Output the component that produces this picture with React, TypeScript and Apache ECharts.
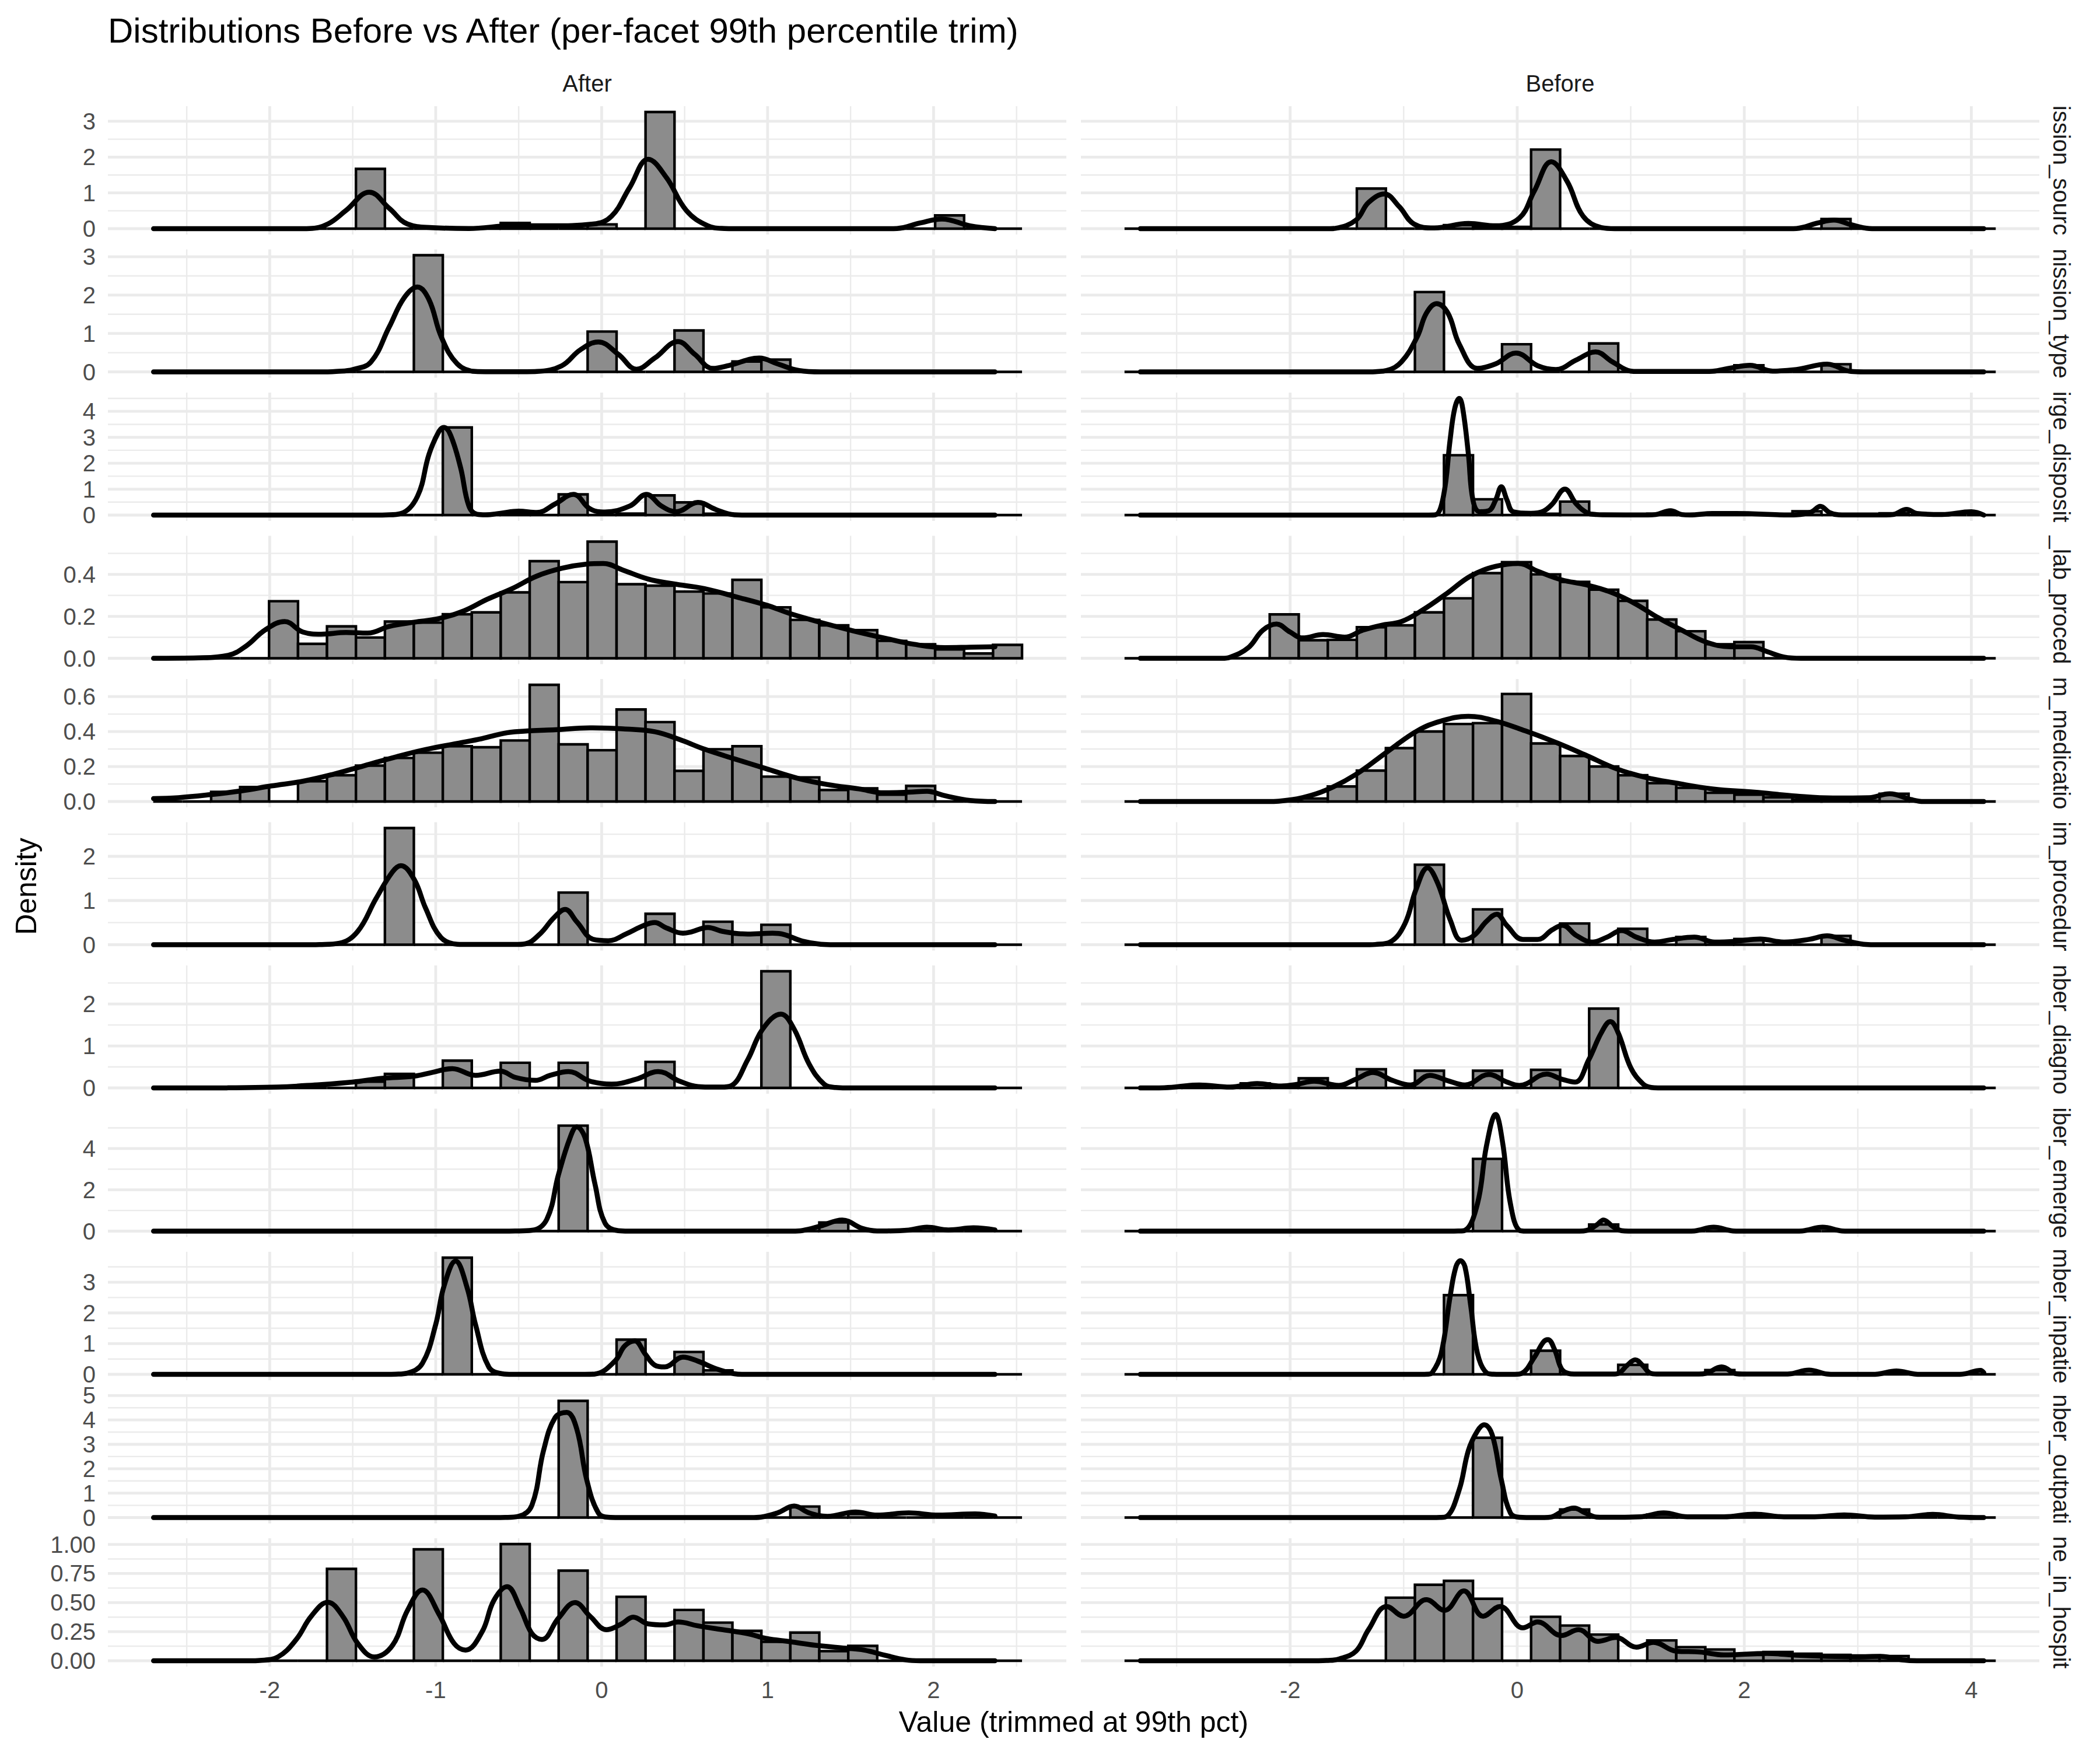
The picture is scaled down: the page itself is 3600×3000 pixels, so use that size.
import React, { useEffect, useRef } from "react";
import * as echarts from "echarts";

// ---------------- text ----------------
const chartTitle = "Distributions Before vs After (per-facet 99th percentile trim)";
const xTitle = "Value (trimmed at 99th pct)";
const yTitle = "Density";
const columnLabels = ["After", "Before"];
const rowStripLabels = [
  "ission_sourc", "nission_type", "irge_disposit", "_lab_proced", "m_medicatio",
  "im_procedur", "nber_diagno", "iber_emerge", "mber_inpatie", "nber_outpati", "ne_in_hospit",
];

// ---------------- x scales / bins ----------------
const afterXRange = [-2.975, 2.8];
const beforeXRange = [-3.843, 4.599];
const afterXTicks = [-2, -1, 0, 1, 2];
const afterXMinor = [-2.5, -1.5, -0.5, 0.5, 1.5, 2.5];
const beforeXTicks = [-2, 0, 2, 4];
const beforeXMinor = [-3, -1, 1, 3];
const afterBinStart = -2.702;
const afterBinWidth = 0.1745;
const beforeBinStart = -3.459;
const beforeBinWidth = 0.2558;

// ---------------- y ticks ----------------
const yTicksInt3 = [0, 1, 2, 3];
const yLabelsInt3 = ["0", "1", "2", "3"];
const yMinorInt3 = [0.5, 1.5, 2.5];
const yTicksInt4 = [0, 1, 2, 3, 4];
const yLabelsInt4 = ["0", "1", "2", "3", "4"];
const yMinorInt4 = [0.5, 1.5, 2.5, 3.5, 4.5];
const yTicksLab = [0, 0.2, 0.4];
const yLabelsLab = ["0.0", "0.2", "0.4"];
const yMinorLab = [0.1, 0.3, 0.5];
const yTicksMed = [0, 0.2, 0.4, 0.6];
const yLabelsMed = ["0.0", "0.2", "0.4", "0.6"];
const yMinorMed = [0.1, 0.3, 0.5];
const yTicksInt2 = [0, 1, 2];
const yLabelsInt2 = ["0", "1", "2"];
const yMinorInt2 = [0.5, 1.5, 2.5];
const yTicksEven = [0, 2, 4];
const yLabelsEven = ["0", "2", "4"];
const yMinorEven = [1, 3, 5];
const yMinorInp = [0.5, 1.5, 2.5, 3.5];
const yTicksInt5 = [0, 1, 2, 3, 4, 5];
const yLabelsInt5 = ["0", "1", "2", "3", "4", "5"];
const yMinorInt5 = [0.5, 1.5, 2.5, 3.5, 4.5];
const yTicksQuart = [0, 0.25, 0.5, 0.75, 1];
const yLabelsQuart = ["0.00", "0.25", "0.50", "0.75", "1.00"];
const yMinorQuart = [0.125, 0.375, 0.625, 0.875];

// ---------------- histogram heights (30 bins per panel) ----------------
const barsAfterAdmSource = [0,0,0,0,0,0,0,1.67,0,0,0,0,0.16,0,0,0.12,0,3.26,0,0,0,0,0,0,0,0,0,0.37,0,0];
const barsBeforeAdmSource = [0,0,0,0,0,0,0,0,1.12,0,0,0.1,0.05,0.05,2.21,0,0,0,0,0,0,0,0,0,0.27,0,0,0,0,0];
const barsAfterAdmType = [0,0,0,0,0,0,0,0,0,3.04,0,0,0,0,0,1.05,0,0,1.08,0,0.27,0.32,0,0,0,0,0,0,0,0];
const barsBeforeAdmType = [0,0,0,0,0,0,0,0,0,0,2.08,0,0,0.72,0,0,0.74,0,0,0,0,0.17,0,0,0.2,0,0,0,0,0];
const barsAfterDisch = [0,0,0,0,0,0,0,0,0,0,3.38,0,0.07,0,0.8,0,0.06,0.76,0.49,0.05,0,0,0,0,0,0,0,0,0,0];
const barsBeforeDisch = [0,0,0,0,0,0,0,0,0,0,0,2.31,0.61,0,0.05,0.52,0,0,0.05,0,0,0,0,0.15,0,0,0.07,0,0,0];
const barsAfterLab = [0,0,0,0,0.272,0.069,0.152,0.099,0.175,0.17,0.21,0.219,0.314,0.463,0.363,0.556,0.353,0.346,0.318,0.309,0.374,0.243,0.183,0.157,0.134,0.083,0.067,0.042,0.023,0.064];
const barsBeforeLab = [0,0,0,0,0,0.209,0.086,0.088,0.148,0.157,0.219,0.286,0.406,0.458,0.4,0.364,0.327,0.274,0.185,0.129,0.067,0.077,0,0,0,0,0,0,0,0];
const barsAfterMed = [0,0,0.055,0.083,0,0.116,0.15,0.205,0.249,0.279,0.316,0.31,0.349,0.667,0.327,0.293,0.526,0.454,0.175,0.299,0.316,0.142,0.138,0.066,0.075,0.039,0.089,0,0,0];
const barsBeforeMed = [0,0,0,0,0,0,0.017,0.086,0.177,0.305,0.4,0.443,0.448,0.615,0.332,0.26,0.2,0.15,0.105,0.078,0.05,0.039,0.024,0.011,0.011,0.005,0.044,0,0,0];
const barsAfterProc = [0,0,0,0,0,0,0,0,2.64,0,0,0,0,0,1.18,0,0,0.7,0,0.52,0.23,0.45,0,0,0,0,0,0,0,0];
const barsBeforeProc = [0,0,0,0,0,0,0,0,0,0,1.81,0,0.8,0,0,0.48,0,0.36,0,0.175,0,0.13,0,0,0.2,0,0,0,0,0];
const barsAfterDiag = [0,0,0,0,0,0,0,0.15,0.335,0,0.65,0,0.6,0,0.6,0,0,0.62,0,0,0,2.78,0,0,0,0,0,0,0,0];
const barsBeforeDiag = [0,0,0.04,0,0.11,0,0.23,0,0.445,0,0.41,0,0.41,0,0.43,0,1.89,0,0,0,0,0,0,0,0,0,0,0,0,0];
const barsAfterEmerg = [0,0,0,0,0,0,0,0,0,0,0,0,0,0,5.11,0,0,0,0,0,0,0,0,0.42,0,0,0,0,0,0];
const barsBeforeEmerg = [0,0,0,0,0,0,0,0,0,0,0,0,3.5,0,0,0,0.32,0,0,0,0,0,0,0,0,0,0,0,0,0];
const barsAfterInp = [0,0,0,0,0,0,0,0,0,0,3.8,0,0,0,0,0,1.13,0,0.73,0.13,0,0,0,0,0,0,0,0,0,0];
const barsBeforeInp = [0,0,0,0,0,0,0,0,0,0,0,2.58,0,0,0.77,0,0,0.31,0,0,0.14,0,0,0,0,0,0,0,0,0];
const barsAfterOutp = [0,0,0,0,0,0,0,0,0,0,0,0,0,0,4.78,0,0,0,0,0,0,0,0.45,0,0.15,0,0,0,0,0];
const barsBeforeOutp = [0,0,0,0,0,0,0,0,0,0,0,0,3.27,0,0,0.33,0,0,0.12,0,0,0,0,0,0,0,0,0,0,0];
const barsAfterTime = [0,0,0,0,0,0,0.79,0,0,0.958,0,0,1.003,0,0.775,0,0.55,0,0.437,0.328,0.257,0.163,0.242,0.083,0.128,0,0,0,0,0];
const barsBeforeTime = [0,0,0,0,0,0,0,0,0,0.542,0.653,0.687,0.533,0,0.378,0.303,0.225,0,0.175,0.117,0.097,0.05,0.075,0.06,0.05,0.045,0.04,0,0,0];

// ---------------- density curves [x, density] ----------------
const densAfterAdmSource = [[-2.7,0],[-1.8,0],[-1.76,0.003],[-1.65,0.13],[-1.54,0.51],[-1.4,1.02],[-1.28,0.57],[-1.17,0.13],[-1.02,0.03],[-0.8,0.005],[-0.54,0.08],[-0.31,0.08],[-0.05,0.13],[0.06,0.35],[0.17,1.16],[0.28,1.94],[0.39,1.43],[0.51,0.51],[0.64,0.08],[0.74,0.005],[0.8,0],[1.72,0],[1.78,0.005],[1.92,0.16],[2.05,0.27],[2.22,0.08],[2.37,0]];
const densBeforeAdmSource = [[-3.32,0],[-1.65,0],[-1.6,0.01],[-1.42,0.24],[-1.31,0.73],[-1.17,0.97],[-1.04,0.62],[-0.91,0.13],[-0.73,0.02],[-0.43,0.145],[-0.19,0.08],[0.02,0.3],[0.15,1.05],[0.3,1.87],[0.44,1.32],[0.58,0.35],[0.74,0.03],[0.86,0],[0.92,0],[2.4,0],[2.46,0.005],[2.65,0.16],[2.79,0.24],[2.94,0.11],[3.1,0.005],[3.16,0],[4.11,0]];
const densAfterAdmType = [[-2.7,0],[-1.65,0],[-1.6,0.01],[-1.5,0.06],[-1.39,0.26],[-1.28,1.17],[-1.19,1.93],[-1.11,2.21],[-1.04,1.88],[-0.967,0.92],[-0.87,0.21],[-0.76,0.01],[-0.7,0.005],[-0.45,0.005],[-0.39,0.01],[-0.24,0.16],[-0.13,0.57],[-0.02,0.78],[0.1,0.46],[0.21,0.07],[0.32,0.36],[0.46,0.79],[0.56,0.46],[0.67,0.09],[0.77,0.17],[0.95,0.36],[1.06,0.21],[1.19,0.035],[1.32,0],[1.38,0],[2.37,0]];
const densBeforeAdmType = [[-3.32,0],[-1.3,0],[-1.25,0.005],[-1.15,0.035],[-1.02,0.26],[-0.88,0.92],[-0.8,1.53],[-0.71,1.78],[-0.61,1.53],[-0.51,0.72],[-0.35,0.09],[-0.19,0.21],[-0.01,0.49],[0.18,0.16],[0.34,0.06],[0.52,0.31],[0.69,0.52],[0.84,0.26],[1.0,0.02],[1.06,0.01],[1.66,0.01],[1.72,0.015],[1.88,0.1],[2.05,0.17],[2.25,0.02],[2.46,0.06],[2.73,0.2],[2.94,0.01],[3.05,0],[3.1,0],[4.11,0]];
const densAfterDisch = [[-2.7,0],[-1.35,0],[-1.3,0.005],[-1.21,0.06],[-1.11,0.72],[-1.04,2.35],[-0.98,3.23],[-0.95,3.38],[-0.91,3.08],[-0.85,1.83],[-0.8,0.35],[-0.75,0.03],[-0.7,0.01],[-0.61,0.07],[-0.5,0.15],[-0.39,0.1],[-0.28,0.43],[-0.17,0.8],[-0.07,0.24],[0.02,0.12],[0.17,0.35],[0.27,0.8],[0.36,0.35],[0.45,0.13],[0.58,0.49],[0.69,0.21],[0.8,0.01],[0.86,0],[0.92,0],[2.37,0]];
const densBeforeDisch = [[-3.32,0],[-0.78,0],[-0.72,0.01],[-0.65,0.72],[-0.59,2.94],[-0.55,4.12],[-0.51,4.5],[-0.48,4.12],[-0.43,2.35],[-0.39,0.58],[-0.33,0.13],[-0.25,0.17],[-0.19,0.58],[-0.14,1.09],[-0.09,0.58],[-0.035,0.13],[0.12,0.07],[0.23,0.15],[0.31,0.43],[0.42,1.0],[0.52,0.43],[0.62,0.08],[0.7,0.02],[0.76,0.01],[1.15,0.005],[1.22,0.02],[1.35,0.17],[1.45,0.02],[1.52,0.005],[1.72,0.06],[1.93,0.06],[2.4,0.005],[2.46,0.01],[2.59,0.12],[2.67,0.34],[2.75,0.1],[2.83,0.01],[2.9,0.005],[3.25,0.005],[3.31,0.02],[3.43,0.22],[3.52,0.06],[3.74,0.02],[4.0,0.13],[4.11,0]];
const densAfterLab = [[-2.7,0],[-2.43,0.002],[-2.25,0.014],[-2.14,0.06],[-2.03,0.134],[-1.91,0.175],[-1.8,0.125],[-1.69,0.115],[-1.54,0.123],[-1.41,0.12],[-1.28,0.152],[-1.13,0.172],[-0.98,0.189],[-0.83,0.226],[-0.69,0.281],[-0.54,0.332],[-0.39,0.392],[-0.24,0.429],[-0.09,0.449],[0.01,0.452],[0.13,0.42],[0.28,0.378],[0.43,0.355],[0.62,0.332],[0.8,0.295],[0.99,0.254],[1.14,0.212],[1.32,0.171],[1.51,0.132],[1.7,0.097],[1.88,0.067],[2.07,0.051],[2.22,0.053],[2.37,0.055]];
const densBeforeLab = [[-3.32,0],[-2.6,0],[-2.53,0.005],[-2.37,0.05],[-2.24,0.134],[-2.12,0.163],[-2.0,0.125],[-1.89,0.097],[-1.71,0.113],[-1.52,0.101],[-1.36,0.134],[-1.2,0.157],[-1.02,0.175],[-0.83,0.231],[-0.62,0.309],[-0.41,0.392],[-0.19,0.438],[0.01,0.452],[0.18,0.415],[0.39,0.374],[0.6,0.351],[0.81,0.318],[1.03,0.263],[1.24,0.194],[1.45,0.134],[1.66,0.078],[1.88,0.055],[2.06,0.055],[2.2,0.032],[2.35,0.006],[2.5,0],[2.57,0],[4.11,0]];
const densAfterMed = [[-2.7,0.017],[-2.55,0.022],[-2.36,0.039],[-2.17,0.061],[-1.99,0.089],[-1.8,0.116],[-1.62,0.155],[-1.43,0.205],[-1.24,0.255],[-1.06,0.297],[-0.87,0.332],[-0.72,0.36],[-0.57,0.393],[-0.43,0.404],[-0.28,0.41],[-0.07,0.421],[0.13,0.415],[0.32,0.399],[0.47,0.354],[0.62,0.299],[0.8,0.244],[0.99,0.188],[1.18,0.133],[1.36,0.097],[1.55,0.072],[1.7,0.05],[1.85,0.053],[1.96,0.058],[2.07,0.033],[2.22,0.006],[2.37,0]];
const densBeforeMed = [[-3.32,0],[-2.2,0],[-2.1,0.002],[-1.89,0.022],[-1.68,0.066],[-1.42,0.155],[-1.15,0.282],[-0.88,0.404],[-0.67,0.46],[-0.43,0.487],[-0.19,0.46],[0.07,0.404],[0.34,0.338],[0.6,0.266],[0.87,0.188],[1.13,0.138],[1.4,0.105],[1.72,0.072],[2.09,0.053],[2.46,0.031],[2.78,0.02],[3.1,0.022],[3.28,0.044],[3.47,0.011],[3.58,0],[3.63,0],[4.11,0]];
const densAfterProc = [[-2.7,0],[-1.75,0],[-1.7,0.003],[-1.58,0.035],[-1.47,0.3],[-1.36,1.04],[-1.26,1.65],[-1.21,1.79],[-1.13,1.48],[-1.06,0.82],[-0.97,0.17],[-0.87,0.01],[-0.8,0.005],[-0.52,0.005],[-0.46,0.02],[-0.37,0.25],[-0.29,0.6],[-0.22,0.8],[-0.15,0.52],[-0.05,0.12],[0.04,0.09],[0.15,0.25],[0.25,0.43],[0.32,0.5],[0.39,0.38],[0.49,0.26],[0.54,0.29],[0.64,0.39],[0.73,0.3],[0.88,0.24],[1.03,0.26],[1.1,0.23],[1.21,0.08],[1.32,0.01],[1.4,0],[1.45,0],[2.37,0]];
const densBeforeProc = [[-3.32,0],[-1.3,0],[-1.25,0.005],[-1.12,0.06],[-0.99,0.47],[-0.89,1.26],[-0.79,1.74],[-0.7,1.39],[-0.59,0.56],[-0.49,0.1],[-0.38,0.21],[-0.27,0.53],[-0.18,0.69],[-0.09,0.43],[0.05,0.12],[0.18,0.12],[0.31,0.34],[0.4,0.44],[0.52,0.21],[0.66,0.06],[0.79,0.17],[0.92,0.32],[1.05,0.17],[1.21,0.06],[1.37,0.12],[1.56,0.17],[1.74,0.06],[1.93,0.08],[2.14,0.13],[2.35,0.06],[2.57,0.12],[2.73,0.2],[2.88,0.1],[3.05,0.01],[3.14,0],[3.2,0],[4.11,0]];
const densAfterDiag = [[-2.7,0],[-2.3,0],[-2.25,0.002],[-1.95,0.02],[-1.73,0.07],[-1.5,0.14],[-1.32,0.23],[-1.13,0.28],[-1.02,0.37],[-0.9,0.46],[-0.76,0.3],[-0.61,0.4],[-0.52,0.25],[-0.4,0.18],[-0.31,0.3],[-0.2,0.39],[-0.07,0.16],[0.06,0.09],[0.21,0.21],[0.34,0.39],[0.47,0.16],[0.58,0.03],[0.64,0.02],[0.72,0.02],[0.78,0.05],[0.88,0.67],[0.97,1.4],[1.08,1.76],[1.16,1.4],[1.25,0.57],[1.34,0.09],[1.41,0.01],[1.47,0],[2.37,0]];
const densBeforeDiag = [[-3.32,0],[-3.11,0.005],[-2.8,0.07],[-2.53,0.02],[-2.29,0.105],[-2.08,0.046],[-1.95,0.08],[-1.79,0.16],[-1.57,0.06],[-1.42,0.21],[-1.27,0.37],[-1.1,0.18],[-0.94,0.07],[-0.77,0.3],[-0.62,0.18],[-0.46,0.07],[-0.25,0.32],[-0.09,0.14],[0.02,0.06],[0.26,0.33],[0.39,0.21],[0.51,0.14],[0.63,0.67],[0.74,1.31],[0.82,1.58],[0.89,1.31],[1.0,0.48],[1.11,0.09],[1.18,0.01],[1.24,0],[4.11,0]];
const densAfterEmerg = [[-2.7,0],[-0.6,0],[-0.52,0.005],[-0.42,0.04],[-0.33,0.58],[-0.26,2.74],[-0.19,4.53],[-0.15,5.05],[-0.1,4.53],[-0.04,2.27],[0.02,0.39],[0.1,0.02],[0.16,0],[0.22,0],[1.15,0],[1.21,0.03],[1.32,0.25],[1.45,0.54],[1.57,0.13],[1.66,0.01],[1.72,0.01],[1.85,0.05],[1.96,0.19],[2.09,0.06],[2.24,0.16],[2.37,0.06]];
const densBeforeEmerg = [[-3.32,0],[-0.6,0],[-0.52,0.005],[-0.46,0.04],[-0.35,1.33],[-0.27,4.15],[-0.19,5.65],[-0.13,4.34],[-0.06,1.33],[0.02,0.04],[0.08,0],[0.14,0],[0.55,0],[0.61,0.03],[0.7,0.3],[0.76,0.54],[0.84,0.23],[0.92,0.02],[0.98,0],[1.5,0],[1.56,0.01],[1.73,0.19],[1.9,0.01],[1.96,0],[2.45,0],[2.51,0.01],[2.69,0.19],[2.86,0.01],[2.92,0],[4.11,0]];
const densAfterInp = [[-2.7,0],[-1.3,0],[-1.24,0.005],[-1.17,0.04],[-1.08,0.36],[-1.0,1.62],[-0.95,2.87],[-0.88,3.69],[-0.81,2.81],[-0.76,1.62],[-0.68,0.24],[-0.6,0.02],[-0.54,0],[-0.1,0],[-0.04,0.01],[0.08,0.43],[0.14,0.93],[0.2,1.09],[0.26,0.68],[0.32,0.3],[0.38,0.24],[0.49,0.56],[0.58,0.43],[0.69,0.18],[0.8,0.02],[0.86,0],[0.92,0],[2.37,0]];
const densBeforeInp = [[-3.32,0],[-0.85,0],[-0.79,0.005],[-0.75,0.05],[-0.67,0.68],[-0.59,2.56],[-0.54,3.5],[-0.5,3.7],[-0.46,3.5],[-0.41,2.25],[-0.35,0.68],[-0.27,0.05],[-0.21,0.005],[-0.15,0],[-0.02,0],[0.04,0.03],[0.15,0.55],[0.23,1.05],[0.27,1.13],[0.33,0.8],[0.39,0.18],[0.45,0.03],[0.5,0.01],[0.84,0.01],[0.89,0.03],[0.97,0.3],[1.04,0.47],[1.11,0.27],[1.17,0.04],[1.23,0.01],[1.6,0.01],[1.66,0.03],[1.8,0.24],[1.93,0.02],[1.99,0.01],[2.35,0.01],[2.41,0.02],[2.57,0.14],[2.73,0.01],[2.8,0],[3.12,0],[3.18,0.01],[3.34,0.11],[3.5,0.01],[3.56,0],[3.9,0],[3.95,0.02],[4.08,0.13],[4.11,0.05]];
const densAfterOutp = [[-2.7,0],[-0.65,0],[-0.58,0.005],[-0.5,0.05],[-0.42,0.51],[-0.35,2.75],[-0.28,4.1],[-0.21,4.31],[-0.15,3.63],[-0.09,1.55],[-0.02,0.19],[0.04,0.01],[0.1,0],[0.9,0],[0.96,0.02],[1.06,0.19],[1.16,0.47],[1.25,0.19],[1.36,0.05],[1.53,0.23],[1.66,0.1],[1.85,0.19],[2.03,0.1],[2.25,0.15],[2.37,0.06]];
const densBeforeOutp = [[-3.32,0],[-0.75,0],[-0.68,0.005],[-0.62,0.05],[-0.51,1.15],[-0.43,2.75],[-0.35,3.55],[-0.29,3.8],[-0.22,3.39],[-0.14,1.55],[-0.06,0.19],[0.02,0.01],[0.08,0],[0.24,0],[0.3,0.02],[0.39,0.23],[0.5,0.39],[0.6,0.19],[0.7,0.02],[0.76,0.01],[1.08,0.03],[1.29,0.19],[1.5,0.03],[1.82,0.03],[2.09,0.14],[2.35,0.03],[2.62,0.03],[2.88,0.11],[3.15,0.02],[3.42,0.03],[3.66,0.13],[3.89,0.02],[4.11,0]];
const densAfterTime = [[-2.7,0],[-2.12,0],[-2.06,0.003],[-1.95,0.033],[-1.84,0.183],[-1.75,0.383],[-1.65,0.503],[-1.56,0.383],[-1.47,0.15],[-1.37,0.033],[-1.26,0.133],[-1.17,0.433],[-1.08,0.608],[-0.98,0.4],[-0.89,0.15],[-0.82,0.092],[-0.72,0.25],[-0.65,0.517],[-0.57,0.637],[-0.49,0.45],[-0.42,0.233],[-0.36,0.183],[-0.26,0.367],[-0.16,0.5],[-0.07,0.383],[0.03,0.267],[0.12,0.317],[0.19,0.375],[0.28,0.317],[0.38,0.308],[0.46,0.333],[0.58,0.3],[0.73,0.267],[0.88,0.233],[0.99,0.192],[1.14,0.163],[1.29,0.133],[1.47,0.108],[1.58,0.092],[1.7,0.05],[1.83,0.008],[1.92,0],[1.98,0],[2.37,0]];
const densBeforeTime = [[-3.32,0],[-1.75,0],[-1.68,0.002],[-1.57,0.015],[-1.42,0.083],[-1.31,0.267],[-1.15,0.467],[-1.0,0.383],[-0.8,0.525],[-0.64,0.433],[-0.47,0.6],[-0.3,0.383],[-0.15,0.467],[0.05,0.283],[0.18,0.333],[0.39,0.217],[0.54,0.267],[0.71,0.167],[0.87,0.2],[1.05,0.117],[1.2,0.158],[1.4,0.083],[1.61,0.075],[1.82,0.05],[2.2,0.063],[2.46,0.047],[2.73,0.037],[2.99,0.033],[3.2,0.037],[3.39,0.008],[3.52,0],[3.58,0],[4.11,0]];

// ---------------- tables built from the arrays ----------------
const columns = [
  { range: afterXRange, ticks: afterXTicks, minor: afterXMinor, binStart: afterBinStart, binWidth: afterBinWidth },
  { range: beforeXRange, ticks: beforeXTicks, minor: beforeXMinor, binStart: beforeBinStart, binWidth: beforeBinWidth },
];
const rows = [
  { bars: [barsAfterAdmSource, barsBeforeAdmSource], dens: [densAfterAdmSource, densBeforeAdmSource], ticks: yTicksInt3, labels: yLabelsInt3, minor: yMinorInt3 },
  { bars: [barsAfterAdmType, barsBeforeAdmType], dens: [densAfterAdmType, densBeforeAdmType], ticks: yTicksInt3, labels: yLabelsInt3, minor: yMinorInt3 },
  { bars: [barsAfterDisch, barsBeforeDisch], dens: [densAfterDisch, densBeforeDisch], ticks: yTicksInt4, labels: yLabelsInt4, minor: yMinorInt4 },
  { bars: [barsAfterLab, barsBeforeLab], dens: [densAfterLab, densBeforeLab], ticks: yTicksLab, labels: yLabelsLab, minor: yMinorLab },
  { bars: [barsAfterMed, barsBeforeMed], dens: [densAfterMed, densBeforeMed], ticks: yTicksMed, labels: yLabelsMed, minor: yMinorMed },
  { bars: [barsAfterProc, barsBeforeProc], dens: [densAfterProc, densBeforeProc], ticks: yTicksInt2, labels: yLabelsInt2, minor: yMinorInt2 },
  { bars: [barsAfterDiag, barsBeforeDiag], dens: [densAfterDiag, densBeforeDiag], ticks: yTicksInt2, labels: yLabelsInt2, minor: yMinorInt2 },
  { bars: [barsAfterEmerg, barsBeforeEmerg], dens: [densAfterEmerg, densBeforeEmerg], ticks: yTicksEven, labels: yLabelsEven, minor: yMinorEven },
  { bars: [barsAfterInp, barsBeforeInp], dens: [densAfterInp, densBeforeInp], ticks: yTicksInt3, labels: yLabelsInt3, minor: yMinorInp },
  { bars: [barsAfterOutp, barsBeforeOutp], dens: [densAfterOutp, densBeforeOutp], ticks: yTicksInt5, labels: yLabelsInt5, minor: yMinorInt5 },
  { bars: [barsAfterTime, barsBeforeTime], dens: [densAfterTime, densBeforeTime], ticks: yTicksQuart, labels: yLabelsQuart, minor: yMinorQuart },
];

// ---------------- layout ----------------
const FONT = "'Liberation Sans', Arial, Helvetica, sans-serif";
const PANEL_LEFT = [185, 1853];
const PANEL_W = 1643;
const PANEL_TOP0 = 182;
const ROW_PITCH = 245.5;
const PANEL_H = 220;
const GRID_COLOR = "#EBEBEB";

function buildOption() {
  const grid: any[] = [];
  const xAxis: any[] = [];
  const yAxis: any[] = [];
  const series: any[] = [];
  const graphic: any[] = [];
  const nRows = rows.length;

  rows.forEach((row, r) => {
    const allY: number[] = [];
    row.bars.forEach((b) => b.forEach((v) => allY.push(v)));
    row.dens.forEach((d) => d.forEach((p) => allY.push(p[1])));
    const M = Math.max(...allY);
    const yMin = -0.05 * M;
    const yMax = 1.05 * M;

    [0, 1].forEach((c) => {
      const i = r * 2 + c;
      const col = columns[c];
      grid.push({ left: PANEL_LEFT[c], top: PANEL_TOP0 + r * ROW_PITCH, width: PANEL_W, height: PANEL_H });
      xAxis.push({
        gridIndex: i,
        type: "value",
        min: col.range[0],
        max: col.range[1],
        axisLine: { show: false },
        axisTick: { show: false },
        splitLine: { show: false },
        axisLabel: {
          show: r === nRows - 1,
          customValues: col.ticks,
          formatter: (v: number) => String(Math.round(v)),
          margin: 20,
          fontSize: 40,
          color: "#4D4D4D",
          fontFamily: FONT,
        },
      });
      yAxis.push({
        gridIndex: i,
        type: "value",
        min: yMin,
        max: yMax,
        axisLine: { show: false },
        axisTick: { show: false },
        splitLine: { show: false },
        axisLabel: {
          show: c === 0,
          customValues: row.ticks,
          formatter: (v: number) => {
            const k = row.ticks.findIndex((t) => Math.abs(t - v) < 1e-9);
            return k >= 0 ? row.labels[k] : "";
          },
          margin: 21,
          fontSize: 40,
          lineHeight: 30,
          color: "#4D4D4D",
          fontFamily: FONT,
        },
      });

      // grid lines: [value, orientation(0 = vertical, 1 = horizontal), major]
      const gl: number[][] = [];
      col.minor.forEach((v) => gl.push([v, 0, 0]));
      row.minor.forEach((v) => gl.push([v, 1, 0]));
      col.ticks.forEach((v) => gl.push([v, 0, 1]));
      row.ticks.forEach((v) => gl.push([v, 1, 1]));
      series.push({
        type: "custom",
        xAxisIndex: i,
        yAxisIndex: i,
        z: 1,
        silent: true,
        data: gl,
        renderItem: (params: any, api: any) => {
          const cs = params.coordSys;
          const v = api.value(0);
          const o = api.value(1);
          const m = api.value(2);
          const lw = m ? 4.8 : 2.4;
          if (o === 0) {
            const px = api.coord([v, 0])[0];
            return { type: "line", shape: { x1: px, y1: cs.y, x2: px, y2: cs.y + cs.height }, style: { stroke: GRID_COLOR, lineWidth: lw } };
          }
          const py = api.coord([0, v])[1];
          return { type: "line", shape: { x1: cs.x, y1: py, x2: cs.x + cs.width, y2: py }, style: { stroke: GRID_COLOR, lineWidth: lw } };
        },
      });

      // histogram
      const bars = row.bars[c];
      const bd = bars.map((h, k) => [col.binStart + k * col.binWidth, col.binStart + (k + 1) * col.binWidth, h]);
      series.push({
        type: "custom",
        xAxisIndex: i,
        yAxisIndex: i,
        z: 2,
        silent: true,
        data: bd,
        encode: { x: [0, 1], y: 2 },
        renderItem: (params: any, api: any) => {
          const p0 = api.coord([api.value(0), api.value(2)]);
          const p1 = api.coord([api.value(1), 0]);
          return {
            type: "rect",
            shape: { x: p0[0], y: p0[1], width: p1[0] - p0[0], height: p1[1] - p0[1] },
            style: { fill: "#8C8C8C", stroke: "#000000", lineWidth: 4.4 },
          };
        },
      });

      // density
      series.push({
        type: "line",
        xAxisIndex: i,
        yAxisIndex: i,
        z: 3,
        silent: true,
        data: row.dens[c],
        symbol: "none",
        showSymbol: false,
        smooth: 0.4,
        lineStyle: { color: "#000000", width: 8.5, join: "round", cap: "round" },
      });
    });

    graphic.push({
      type: "text",
      x: 3534,
      y: PANEL_TOP0 + r * ROW_PITCH + PANEL_H / 2,
      rotation: -Math.PI / 2,
      style: { text: rowStripLabels[r], fontSize: 40, fontFamily: FONT, fill: "#1A1A1A", align: "center", verticalAlign: "middle", textAlign: "center", textVerticalAlign: "middle" },
    });
  });

  columnLabels.forEach((lab, c) => {
    graphic.push({
      type: "text",
      x: PANEL_LEFT[c] + PANEL_W / 2,
      y: 143,
      style: { text: lab, fontSize: 40, fontFamily: FONT, fill: "#1A1A1A", align: "center", verticalAlign: "middle", textAlign: "center", textVerticalAlign: "middle" },
    });
  });

  const panelsBottom = PANEL_TOP0 + (nRows - 1) * ROW_PITCH + PANEL_H;
  graphic.push({
    type: "text",
    x: 185,
    y: 52,
    style: { text: chartTitle, fontSize: 60, fontFamily: FONT, fill: "#000000", align: "left", verticalAlign: "middle", textAlign: "left", textVerticalAlign: "middle" },
  });
  graphic.push({
    type: "text",
    x: (PANEL_LEFT[0] + PANEL_LEFT[1] + PANEL_W) / 2,
    y: 2952,
    style: { text: xTitle, fontSize: 50, fontFamily: FONT, fill: "#000000", align: "center", verticalAlign: "middle", textAlign: "center", textVerticalAlign: "middle" },
  });
  graphic.push({
    type: "text",
    x: 45,
    y: (PANEL_TOP0 + panelsBottom) / 2,
    rotation: Math.PI / 2,
    style: { text: yTitle, fontSize: 50, fontFamily: FONT, fill: "#000000", align: "center", verticalAlign: "middle", textAlign: "center", textVerticalAlign: "middle" },
  });

  return {
    animation: false,
    backgroundColor: "#FFFFFF",
    textStyle: { fontFamily: FONT },
    grid,
    xAxis,
    yAxis,
    series,
    graphic,
  };
}

export default function App() {
  const ref = useRef<HTMLDivElement>(null);
  useEffect(() => {
    document.body.style.margin = "0";
    const chart = echarts.init(ref.current as HTMLDivElement, null, { renderer: "svg", width: 3600, height: 3000 });
    chart.setOption(buildOption() as any);
    return () => {
      chart.dispose();
    };
  }, []);
  return <div ref={ref} style={{ width: 3600, height: 3000 }} />;
}
